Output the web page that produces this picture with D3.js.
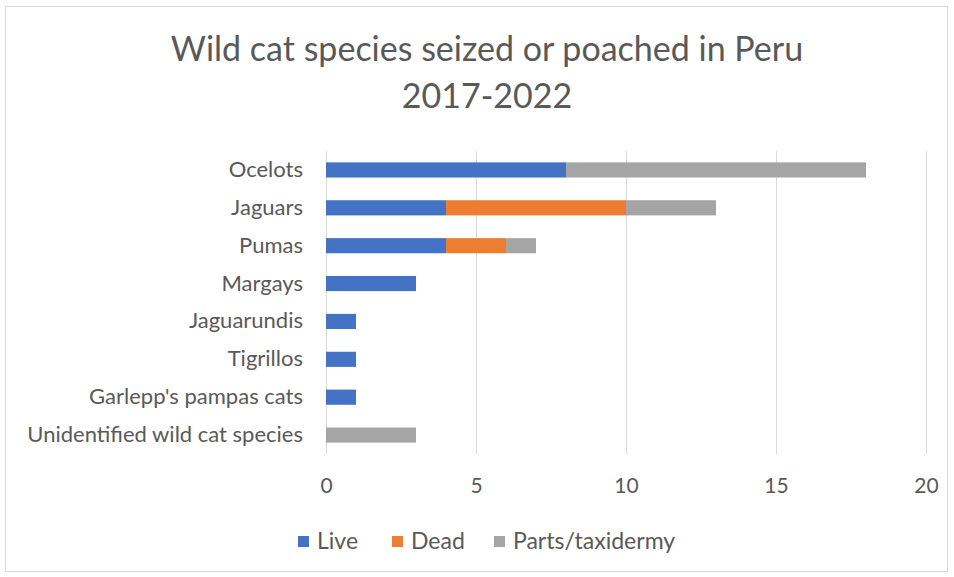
<!DOCTYPE html>
<html><head><meta charset="utf-8">
<script src="https://cdn.jsdelivr.net/npm/d3@7"></script>
<style>body{margin:0;background:#fff}svg text{font-family:Lato,"Open Sans",sans-serif}</style>
</head><body><svg id="c" width="954" height="577"></svg>
<script>
const categories = ["Ocelots","Jaguars","Pumas","Margays","Jaguarundis","Tigrillos","Garlepp's pampas cats","Unidentified wild cat species"];
const live = [8,4,4,3,1,1,1,0];
const dead = [0,6,2,0,0,0,0,0];
const parts = [10,3,1,0,0,0,0,3];
const seriesNames = ["Live","Dead","Parts/taxidermy"];
const colors = ["#4472C4","#ED7D31","#A5A5A5"];
const xTicks = [0,5,10,15,20];
const titleLines = ["Wild cat species seized or poached in Peru","2017-2022"];

const svg = d3.select("#c");
svg.append("rect").attr("x",5.5).attr("y",6.5).attr("width",942).attr("height",565).attr("fill","#fff").attr("stroke","#d9d9d9");

const x = d3.scaleLinear().domain([0,20]).range([326,926]);
const y = d3.scaleBand().domain(categories).range([151,454]).paddingInner(0.6).paddingOuter(0.3);

svg.append("g").selectAll("line").data(xTicks).join("line")
  .attr("x1",d=>x(d)).attr("x2",d=>x(d)).attr("y1",151).attr("y2",454)
  .attr("stroke","#d9d9d9").attr("stroke-width",1).attr("shape-rendering","crispEdges");

const rows = categories.map((c,i)=>({c, vals:[live[i],dead[i],parts[i]]}));
const stack = d3.stack().keys([0,1,2]).value((d,k)=>d.vals[k])(rows);
svg.append("g").selectAll("g").data(stack).join("g").attr("fill",(d,i)=>colors[i])
  .selectAll("rect").data(d=>d).join("rect")
  .attr("x",d=>x(d[0])).attr("width",d=>x(d[1])-x(d[0]))
  .attr("y",d=>y(d.data.c)).attr("height",y.bandwidth());

const ya = svg.append("g").attr("transform","translate(326,0)").call(d3.axisLeft(y).tickSize(0).tickPadding(23));
ya.select(".domain").remove();
ya.selectAll("text").attr("font-size",22).attr("fill","#595959").style("font-family","Lato, 'Open Sans', sans-serif");

const xa = svg.append("g").attr("transform","translate(0,454)").call(d3.axisBottom(x).tickValues(xTicks).tickSize(0).tickPadding(24));
xa.select(".domain").remove();
xa.selectAll("text").attr("font-size",21).attr("fill","#595959").style("font-family","Lato, 'Open Sans', sans-serif");

svg.append("g").selectAll("text").data(titleLines).join("text")
  .attr("x",487).attr("y",(d,i)=>61+i*47).attr("text-anchor","middle")
  .attr("font-size",34).attr("fill","#595959").text(d=>d);

const lx = [298,392,494];
const lg = svg.append("g").selectAll("g").data(seriesNames).join("g").attr("transform",(d,i)=>`translate(${lx[i]},541)`);
lg.append("rect").attr("x",0).attr("y",-5).attr("width",11).attr("height",11).attr("fill",(d,i)=>colors[i]);
lg.append("text").attr("x",19).attr("y",8).attr("font-size",23).attr("fill","#595959").text(d=>d);
</script></body></html>
